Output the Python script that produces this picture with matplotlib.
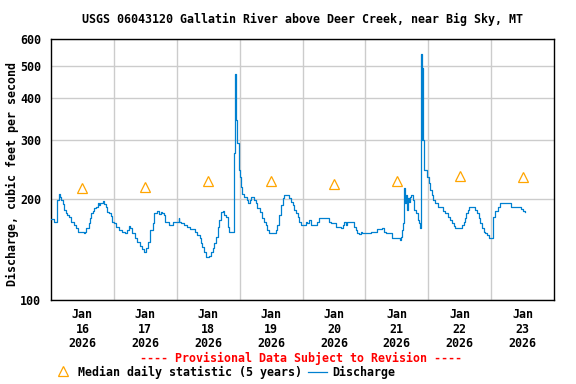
import numpy as np
import matplotlib
matplotlib.use("Agg")
import matplotlib.pyplot as plt
from matplotlib.lines import Line2D

# ---- Data (hours since Jan 16 2026 00:00, discharge in cfs) ----
hours = [
    0.0, 0.8, 1.0, 2.0, 2.3, 3.1, 3.5, 3.9, 4.4, 5.0, 5.7, 6.2, 6.9, 7.7, 8.8, 9.6,
    10.4, 12.7, 13.1, 13.4, 14.6, 15.0, 15.4, 16.1, 16.5, 17.3, 18.0, 18.4, 18.8,
    19.8, 20.3, 21.1, 21.5, 22.2, 23.0, 23.4, 24.2, 24.9, 26.1, 27.2, 28.4, 29.1,
    29.9, 30.3, 31.0, 32.2, 33.0, 34.1, 34.9, 35.6, 36.4, 37.2, 37.9, 39.1, 39.5,
    40.6, 41.4, 41.9, 42.5, 43.2, 43.7, 45.1, 46.4, 48.7, 49.0, 49.5, 50.8, 52.1,
    52.9, 54.0, 54.8, 55.9, 56.7, 57.2, 57.8, 58.5, 59.1, 60.4, 61.0, 61.7, 62.3,
    62.9, 63.6, 64.2, 64.8, 65.5, 66.1, 66.8, 67.4, 68.1, 69.8, 70.0, 70.2, 70.5,
    70.7, 71.0, 71.6, 72.0, 72.4, 73.0, 73.5, 74.3, 75.0, 75.3, 75.8, 76.2, 77.1,
    77.5, 78.1, 78.8, 79.7, 80.4, 80.7, 81.3, 82.0, 82.6, 83.2, 85.1, 85.8, 86.4,
    87.0, 87.7, 88.4, 89.0, 90.3, 90.9, 91.5, 92.2, 92.8, 93.4, 94.1, 94.7, 95.4,
    96.6, 97.3, 97.9, 98.5, 99.2, 101.1, 101.7, 102.4, 105.6, 106.2, 106.8, 108.1,
    108.8, 110.7, 111.3, 111.8, 112.5, 113.1, 114.6, 115.6, 116.3, 116.9, 117.6,
    118.2, 118.8, 121.4, 122.0, 124.0, 124.6, 126.5, 127.1, 127.8, 129.7, 130.3,
    132.9, 133.3, 133.7, 134.1, 134.5, 134.9, 135.2, 135.4, 135.8, 136.3, 136.7,
    137.1, 137.6, 138.0, 138.6, 139.3, 139.9, 140.6, 141.0, 141.2, 141.6, 141.7,
    141.8, 141.9, 142.3, 142.8, 143.5, 144.1, 144.7, 145.4, 146.0, 146.7, 147.9,
    149.2, 149.6, 150.5, 151.7, 152.4, 153.0, 153.7, 154.3, 156.2, 156.9, 157.5,
    158.1, 158.5, 159.0, 159.4, 161.3, 162.0, 162.6, 163.2, 163.9, 164.5, 165.1,
    165.8, 166.4, 167.0, 168.1, 168.7, 169.3, 170.6, 171.3, 175.5, 175.7, 178.9,
    179.3, 180.2, 180.8,
]
discharge = [
    174, 174, 171, 171, 199, 207, 203, 199, 193, 186, 182, 179, 177, 171, 167, 164,
    160, 158, 160, 164, 170, 176, 182, 184, 188, 189, 195, 192, 195,
    197, 193, 189, 183, 182, 178, 171, 170, 165, 162, 160, 158, 162,
    166, 164, 158, 153, 149, 145, 142, 139, 143, 149, 162, 170, 182,
    184, 180, 183, 182, 179, 171, 167, 171, 176, 171, 170, 167, 165,
    163, 163, 160, 156, 153, 148, 144, 139, 134, 135, 139, 143, 148,
    154, 165, 173, 183, 184, 179, 177, 165, 160, 160, 274, 472, 459,
    344, 293, 244, 233, 217, 207, 203, 203, 199, 195, 199, 203, 203,
    199, 195, 188, 183, 182, 176, 171, 167, 162, 158, 158, 162, 167,
    179, 192, 201, 206, 206, 201, 196, 192, 186, 182, 177, 171, 167,
    167, 171, 170, 173, 167, 167, 171, 176, 176, 171, 170, 170,
    165, 164, 167, 171, 167, 171, 171, 165, 162, 158, 157,
    160, 158, 158, 160, 160, 163, 164, 160, 158, 158, 153,
    153, 151, 154, 162, 170, 216, 195, 206, 186, 201, 196,
    203, 206, 199, 186, 182, 173, 170, 164, 541, 541, 300,
    492, 300, 244, 244, 233, 223, 213, 206, 199, 195, 189,
    189, 184, 182, 177, 173, 170, 166, 164, 164, 167, 171,
    176, 182, 186, 189, 189, 186, 182, 176, 170, 164, 160,
    158, 156, 153, 153, 177, 184, 189, 195, 195, 189, 189,
    187, 184, 183,
]

median_hours = [12, 36, 60, 84, 108, 132, 156, 180]
median_cfs = [216, 217, 226, 226, 222, 226, 234, 232]

day_labels = ["Jan\n16\n2026", "Jan\n17\n2026", "Jan\n18\n2026", "Jan\n19\n2026",
              "Jan\n20\n2026", "Jan\n21\n2026", "Jan\n22\n2026", "Jan\n23\n2026"]
y_ticks = [100, 200, 300, 400, 500, 600]

LINE_COLOR = "#0080D0"
MED_COLOR = "#FFA500"
FONT = dict(family="DejaVu Sans Mono", weight="bold", size=8.4)

fig = plt.figure(figsize=(5.76, 3.84), dpi=100)
ax = fig.add_axes([51 / 576, 1 - 300 / 384, 503 / 576, 261 / 384])

ax.step(hours, discharge, where="post", color=LINE_COLOR, lw=0.9, zorder=3)
ax.plot(median_hours, median_cfs, "^", ms=7, mfc="none", mec=MED_COLOR, mew=0.9,
        zorder=4)

ax.set_yscale("log")
ax.set_ylim(100, 600)
ax.set_xlim(0, 192)
ax.set_yticks(y_ticks)
ax.set_yticklabels([str(v) for v in y_ticks], **FONT)
ax.yaxis.set_minor_locator(plt.NullLocator())
ax.set_xticks(median_hours)
ax.set_xticklabels(day_labels, linespacing=1.15, **FONT)
ax.set_xticks(np.arange(24, 192, 24), minor=True)
ax.tick_params(axis="both", which="both", length=0)
ax.tick_params(axis="y", pad=7)
ax.tick_params(axis="x", pad=6)

ax.grid(True, axis="y", which="major", color="#CCCCCC", lw=1)
ax.grid(True, axis="x", which="minor", color="#CCCCCC", lw=1)
ax.grid(False, axis="x", which="major")
for s in ax.spines.values():
    s.set_color("black")
    s.set_linewidth(1)

fig.text(0.5 * (51 + 554) / 576, 1 - 19 / 384,
         "USGS 06043120 Gallatin River above Deer Creek, near Big Sky, MT",
         ha="center", va="center", **FONT)
fig.text(12 / 576, 1 - 174 / 384, "Discharge, cubic feet per second",
         rotation=90, ha="center", va="center", **FONT)
fig.text(301 / 576, 1 - 358 / 384, "---- Provisional Data Subject to Revision ----",
         ha="center", va="center", color="red", **FONT)

# ---- Legend (manual) ----
fig.add_artist(Line2D([63 / 576], [1 - 371 / 384], marker="^", ms=7, mfc="none",
                      mec=MED_COLOR, mew=0.9, transform=fig.transFigure))
fig.text(78 / 576, 1 - 372 / 384, "Median daily statistic (5 years)",
         ha="left", va="center", **FONT)
fig.add_artist(Line2D([308 / 576, 327 / 576], [1 - 372 / 384] * 2, color=LINE_COLOR,
                      lw=0.9, transform=fig.transFigure))
fig.text(332 / 576, 1 - 372 / 384, "Discharge", ha="left", va="center", **FONT)

fig.savefig("out.png", dpi=100)
